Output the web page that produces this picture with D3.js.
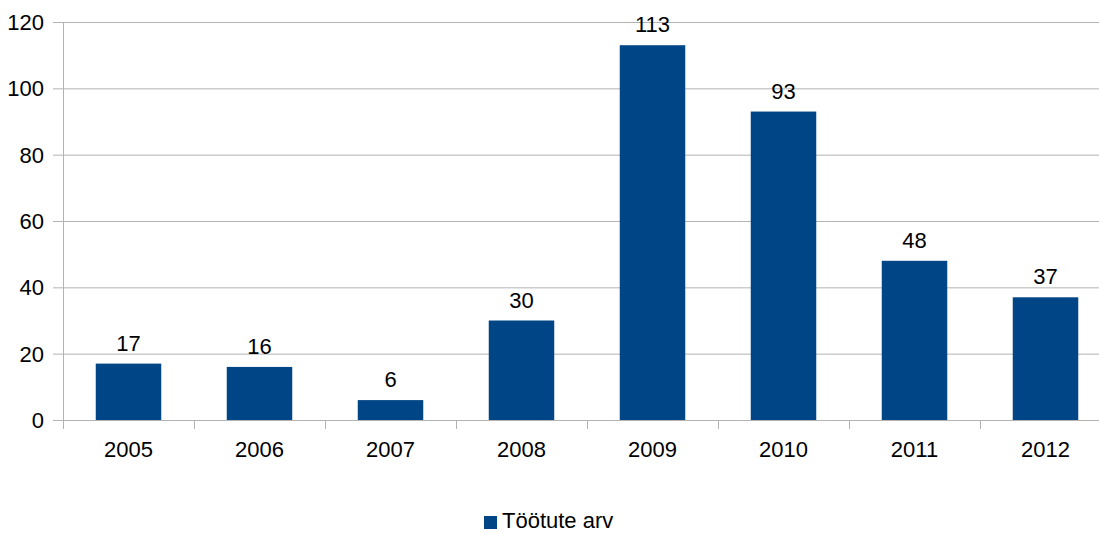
<!DOCTYPE html>
<html>
<head>
<meta charset="utf-8">
<script src="https://cdn.jsdelivr.net/npm/d3@7"></script>
<style>
  body { margin: 0; background: #fff; }
  svg { display: block; font-family: "Liberation Sans", Arial, sans-serif; }
</style>
</head>
<body>
<div id="canvas"></div>
<script>
"use strict"

/* Data */
let years = ["2005", "2006", "2007", "2008", "2009", "2010", "2011", "2012"];
let workers = [17, 16, 6, 30, 113, 93, 48, 37];
let yTicks = [0, 20, 40, 60, 80, 100, 120];
let seriesName = "Töötute arv";

/* Drawing dimensions */
let svgWidth = 1099;
let svgHeight = 533;
let plotLeft = 63;
let plotRight = 1111; // plot runs past the right edge, as in the original
let plotTop = 22;
let plotBottom = 420;
let barColor = "#004586";
let gridColor = "#b3b3b3";
let fontSize = "22px";

let svg = d3.select("#canvas")
    .append("svg")
    .attr("width", svgWidth)
    .attr("height", svgHeight);

let xScale = d3.scaleBand()
    .domain(years)
    .range([plotLeft, plotRight])
    .paddingInner(0.5)
    .paddingOuter(0.25);

let yScale = d3.scaleLinear()
    .domain([0, 120])
    .range([plotBottom, plotTop]);

/* Horizontal gridlines */
svg.append("g")
    .selectAll("line")
    .data(yTicks)
    .join("line")
    .attr("x1", plotLeft - 10)
    .attr("x2", svgWidth)
    .attr("y1", d => yScale(d) + 0.5)
    .attr("y2", d => yScale(d) + 0.5)
    .attr("stroke", gridColor)
    .attr("stroke-width", 1);

/* Y tick labels */
svg.append("g")
    .selectAll("text")
    .data(yTicks)
    .join("text")
    .attr("x", 44)
    .attr("y", d => yScale(d) + 8)
    .attr("text-anchor", "end")
    .style("font-size", fontSize)
    .text(d => d);

/* Y axis line */
svg.append("line")
    .attr("x1", plotLeft + 0.5)
    .attr("x2", plotLeft + 0.5)
    .attr("y1", plotTop)
    .attr("y2", plotBottom + 9)
    .attr("stroke", gridColor);

/* Category boundary ticks on the x axis */
let gap = (xScale.step() - xScale.bandwidth()) / 2;
svg.append("g")
    .selectAll("line")
    .data(years.slice(1))
    .join("line")
    .attr("x1", d => Math.round(xScale(d) - gap) + 0.5)
    .attr("x2", d => Math.round(xScale(d) - gap) + 0.5)
    .attr("y1", plotBottom)
    .attr("y2", plotBottom + 9)
    .attr("stroke", gridColor);

/* Bars */
svg.append("g")
    .selectAll("rect")
    .data(workers)
    .join("rect")
    .attr("x", (d, i) => xScale(years[i]))
    .attr("y", d => yScale(d))
    .attr("width", xScale.bandwidth())
    .attr("height", d => plotBottom - yScale(d))
    .attr("fill", barColor);

/* Value labels */
svg.append("g")
    .selectAll("text")
    .data(workers)
    .join("text")
    .attr("x", (d, i) => xScale(years[i]) + xScale.bandwidth() / 2)
    .attr("y", d => yScale(d) - 13)
    .attr("text-anchor", "middle")
    .style("font-size", fontSize)
    .text(d => d);

/* X labels */
svg.append("g")
    .selectAll("text")
    .data(years)
    .join("text")
    .attr("x", d => xScale(d) + xScale.bandwidth() / 2)
    .attr("y", 457)
    .attr("text-anchor", "middle")
    .style("font-size", fontSize)
    .text(d => d);

/* Legend */
svg.append("rect")
    .attr("x", 484)
    .attr("y", 516)
    .attr("width", 13)
    .attr("height", 13)
    .attr("fill", barColor);

svg.append("text")
    .attr("x", 502)
    .attr("y", 528)
    .style("font-size", fontSize)
    .text(seriesName);
</script>
</body>
</html>
